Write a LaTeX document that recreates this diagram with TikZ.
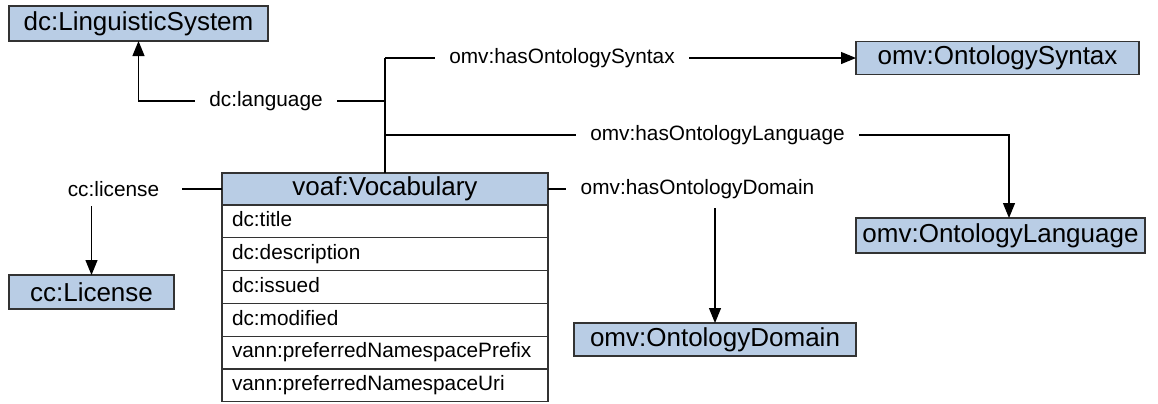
\documentclass[tikz,border=0pt]{standalone}
\usepackage{fontspec}
\setmainfont{Liberation Sans}
\usetikzlibrary{positioning,arrows.meta}

\definecolor{clsblue}{RGB}{185,205,229}

\tikzset{
  cls/.style={draw=black!80, fill=clsblue, line width=0.6pt, inner sep=0pt,
    outer sep=0pt, font=\fontsize{13}{15}\selectfont},
  prop/.style={draw=black!80, fill=white, line width=0.6pt, inner xsep=5pt,
    inner ysep=0pt, outer sep=0pt, minimum height=16.4pt, text width=153pt,
    text height=7.6pt, text depth=2.4pt, align=left,
    font=\fontsize{10.4}{12}\selectfont},
  rel/.style={inner xsep=7pt, font=\fontsize{10.4}{12}\selectfont},
  link/.style={draw=black, line width=0.6pt},
  arr/.style={link, -{Triangle[length=7.5pt,width=6pt]}}
}

\begin{document}
\begin{tikzpicture}[x=0.5pt, y=-0.5pt]
  \useasboundingbox (0,0) rectangle (1158,403);

  % classes
  \node[cls, minimum width=129.5pt, minimum height=17.5pt] (ling) at (138.5,23.5) {dc:LinguisticSystem};
  \node[cls, minimum width=141.5pt, minimum height=16.5pt] (syn) at (997.5,58) {omv:OntologySyntax};
  \node[cls, minimum width=144.5pt, minimum height=17.5pt] (olang) at (1000.5,235.5) {omv:OntologyLanguage};
  \node[cls, minimum width=82.5pt, minimum height=17pt] (lic) at (91.5,292) {cc:License};
  \node[cls, minimum width=141pt, minimum height=16.5pt] (dom) at (715,339.5) {omv:OntologyDomain};

  % vocabulary with its properties
  \node[cls, minimum width=163pt, minimum height=16pt] (voc) at (385,189) {voaf:Vocabulary};
  \node[prop, below=0pt of voc] (title) {dc:title};
  \node[prop, below=0pt of title] (descr) {dc:description};
  \node[prop, below=0pt of descr] (issued) {dc:issued};
  \node[prop, below=0pt of issued] (modified) {dc:modified};
  \node[prop, below=0pt of modified] (nsprefix) {vann:preferredNamespacePrefix};
  \node[prop, below=0pt of nsprefix] (nsuri) {vann:preferredNamespaceUri};

  % relation labels
  \node[rel] (language) at (266,101) {dc:language};
  \node[rel] (hassyn) at (562,58) {omv:hasOntologySyntax};
  \node[rel] (haslang) at (717.5,135) {omv:hasOntologyLanguage};
  \node[rel, inner xsep=11pt, inner ysep=4.5pt] (license) at (113.5,189) {cc:license};
  \node[rel, inner ysep=4.5pt] (hasdom) at (697.5,189) {omv:hasOntologyDomain};

  \coordinate (trunk) at (385,58);
  \coordinate (langturn) at (1009,135);

  % relations
  \draw[link] (voc.north) -- (trunk);
  \draw[arr] (trunk) -- (hassyn.west) (hassyn.east) -- (syn.west);
  \draw[link] (trunk |- language.east) -- (language.east);
  \draw[arr] (language.west) -| (ling.south);
  \draw[link] (trunk |- haslang.west) -- (haslang.west);
  \draw[arr] (haslang.east) -- (langturn) -- (langturn |- olang.north);
  \draw[link] (voc.west) -- (license.east);
  \draw[arr] (license.south -| lic.north) -- (lic.north);
  \draw[link] (voc.east) -- (hasdom.west);
  \draw[arr] (hasdom.south -| dom.north) -- (dom.north);
\end{tikzpicture}
\end{document}
